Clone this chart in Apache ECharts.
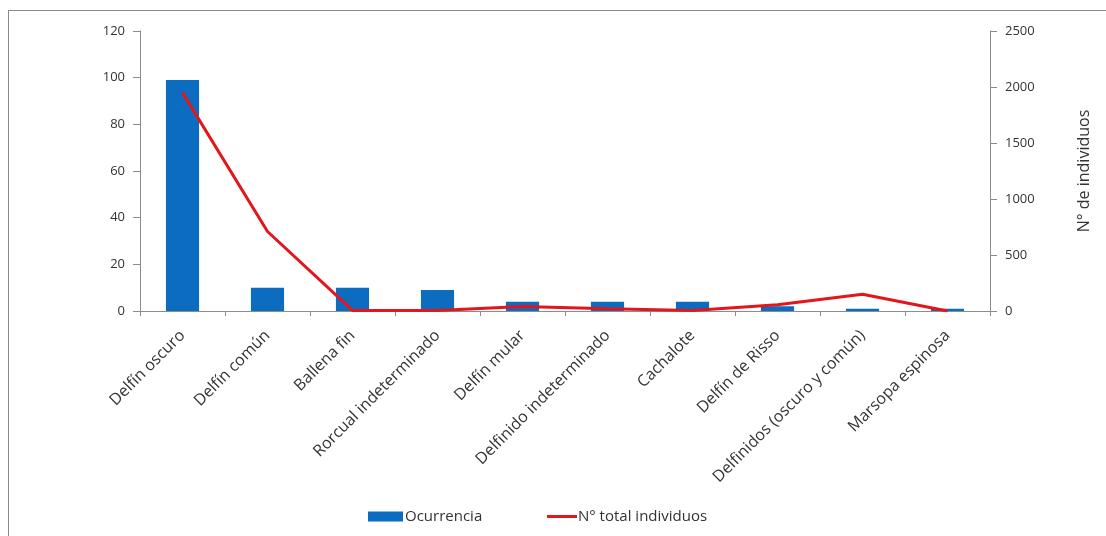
<!DOCTYPE html>
<html>
<head>
<meta charset="utf-8">
<script src="https://cdn.jsdelivr.net/npm/echarts@6/dist/echarts.min.js"></script>
<style>
html,body{margin:0;padding:0;background:#fff;}
#frame{position:absolute;left:8px;top:10px;width:1098px;height:526px;border-left:1px solid #8a8a8a;border-top:1px solid #8a8a8a;}
#chart{position:absolute;left:0;top:0;width:1106px;height:536px;}
</style>
</head>
<body>
<div id="frame"></div>
<div id="chart"></div>
<script>
const categories = ["Delfín oscuro","Delfín común","Ballena fin","Rorcual indeterminado","Delfín mular","Delfinido indeterminado","Cachalote","Delfín de Risso","Delfinidos (oscuro y común)","Marsopa espinosa"];
const ocurrencia = [99, 10, 10, 9, 4, 4, 4, 2, 1, 1];
const totalIndividuos = [1950, 710, 5, 5, 40, 20, 5, 55, 150, 0];
const leftTicks = [0, 120, 20];
const rightTicks = [0, 2500, 500];

const chart = echarts.init(document.getElementById('chart'), null, {renderer:'canvas'});
const font = "'Open Sans', 'Liberation Sans', sans-serif";
const textColor = '#333333';
const axisLineStyle = {color:'#8c8c8c', width:1};
chart.setOption({
  animation:false,
  backgroundColor:'transparent',
  textStyle:{fontFamily:font},
  grid:{left:140, right:116, top:31, bottom:225, containLabel:false},
  legend:[
    {left:368, top:509, padding:0, itemWidth:35, itemHeight:10, itemGap:4,
     textStyle:{fontFamily:font, fontSize:15, color:textColor, padding:[0,0,0,-3]},
     data:[{name:'Ocurrencia', icon:'rect'}]},
    {left:547, top:509, padding:0, itemWidth:30, itemHeight:3, itemGap:4,
     textStyle:{fontFamily:font, fontSize:15, color:textColor, padding:[0,0,0,-4]},
     data:[{name:'N° total individuos', icon:'rect'}]}
  ],
  xAxis:{
    type:'category', data:categories,
    axisLine:{lineStyle:axisLineStyle},
    axisTick:{show:true, alignWithLabel:false, length:5, lineStyle:axisLineStyle},
    axisLabel:{rotate:45, interval:0, fontFamily:font, fontSize:16, color:textColor, margin:22}
  },
  yAxis:[
    {type:'value', min:leftTicks[0], max:leftTicks[1], interval:leftTicks[2], position:'left',
     axisLine:{show:true, lineStyle:axisLineStyle},
     axisTick:{show:true, length:7, lineStyle:axisLineStyle},
     splitLine:{show:false},
     axisLabel:{fontFamily:font, fontSize:13, color:textColor, margin:15}},
    {type:'value', min:rightTicks[0], max:rightTicks[1], interval:rightTicks[2], position:'right',
     name:'N° de individuos', nameLocation:'middle', nameGap:86, nameRotate:90,
     nameTextStyle:{fontFamily:font, fontSize:16, color:textColor},
     axisLine:{show:true, lineStyle:axisLineStyle},
     axisTick:{show:true, length:7, lineStyle:axisLineStyle},
     splitLine:{show:false},
     axisLabel:{fontFamily:font, fontSize:13, color:textColor, margin:15, formatter:v => String(v)}}
  ],
  series:[
    {name:'Ocurrencia', type:'bar', yAxisIndex:0, data:ocurrencia, barWidth:'39%',
     itemStyle:{color:'#0B6CC0'}},
    {name:'N° total individuos', type:'line', yAxisIndex:1, data:totalIndividuos,
     symbol:'none', lineStyle:{color:'#E3161B', width:3}, itemStyle:{color:'#E3161B'}}
  ]
});
</script>
</body>
</html>
